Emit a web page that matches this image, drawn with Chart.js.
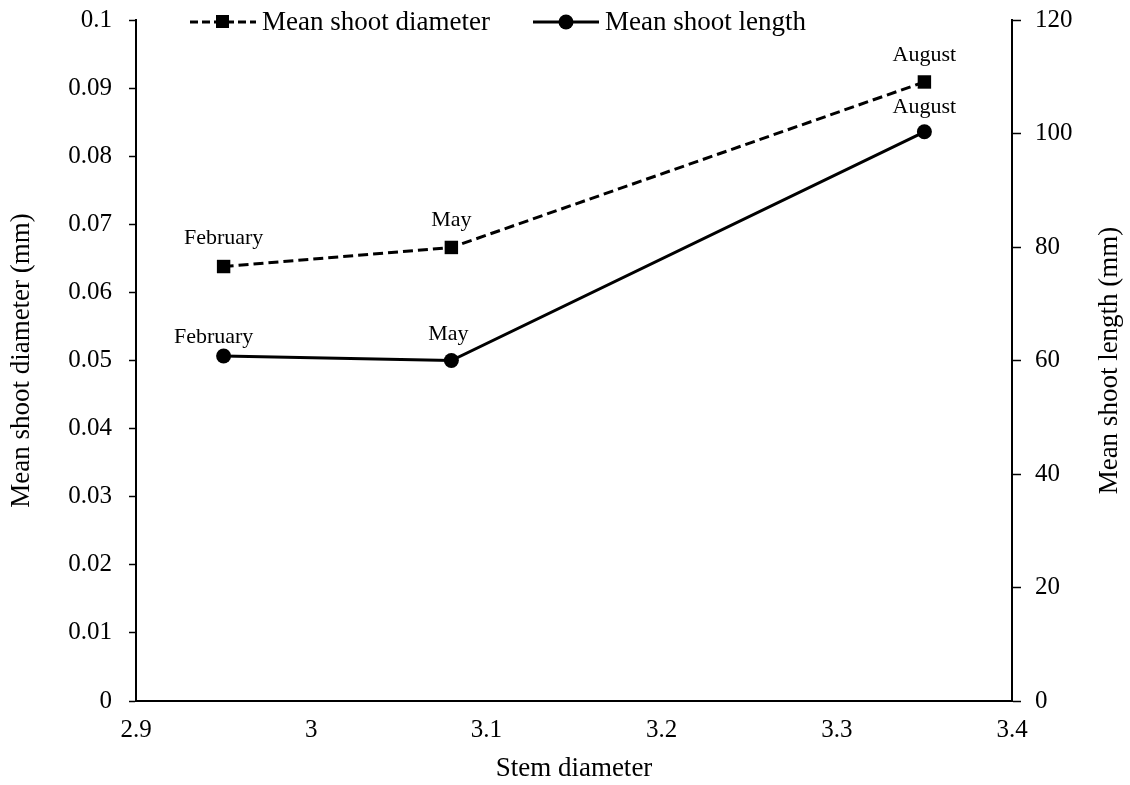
<!DOCTYPE html>
<html>
<head>
<meta charset="utf-8">
<script src="https://cdn.jsdelivr.net/npm/chart.js@4/dist/chart.umd.min.js"></script>
<style>
  html, body { margin: 0; padding: 0; background: #fff; }
  #wrap { width: 1130px; height: 785px; }
</style>
</head>
<body>
<div id="wrap"><canvas id="chart" width="1130" height="785"></canvas></div>
<script>
// Data
const months = ['February', 'May', 'August'];
const stemDiameter = [2.95, 3.08, 3.35];
const meanShootDiameter = [0.0638, 0.0666, 0.0909];
const meanShootLength = [60.8, 60.0, 100.3];

const fontFamily = '"Liberation Serif", "Times New Roman", serif';

function toPoints(xs, ys) {
    return xs.map((x, i) => ({ x: x, y: ys[i] }));
}

// Month labels above each point (small nudges like the original labels)
const labelNudge = [
    [[0, -28], [0, -27], [0, -27]],
    [[-10, -19], [-3, -26], [0, -25]]
];
const monthLabels = {
    id: 'monthLabels',
    afterDatasetsDraw(chart) {
        const ctx = chart.ctx;
        ctx.save();
        ctx.font = '22px ' + fontFamily;
        ctx.fillStyle = '#000';
        ctx.textAlign = 'center';
        ctx.textBaseline = 'middle';
        chart.data.datasets.forEach((ds, d) => {
            const meta = chart.getDatasetMeta(d);
            meta.data.forEach((pt, i) => {
                const n = labelNudge[d][i];
                ctx.fillText(months[i], pt.x + n[0], pt.y + n[1]);
            });
        });
        ctx.restore();
    }
};

// Legend with line + marker, and the right axis title (reads bottom to top)
const extras = {
    id: 'extras',
    afterDraw(chart) {
        const ctx = chart.ctx;
        const items = [
            { x: 190, label: 'Mean shoot diameter', dash: [8, 4], style: 'rect' },
            { x: 533, label: 'Mean shoot length', dash: [], style: 'circle' }
        ];
        const y = 22;
        ctx.save();
        items.forEach(it => {
            ctx.strokeStyle = '#000';
            ctx.lineWidth = 3;
            ctx.setLineDash(it.dash);
            ctx.beginPath();
            ctx.moveTo(it.x, y);
            ctx.lineTo(it.x + 66, y);
            ctx.stroke();
            ctx.setLineDash([]);
            ctx.fillStyle = '#000';
            if (it.style === 'rect') {
                ctx.fillRect(it.x + 26, y - 7, 13, 13);
            } else {
                ctx.beginPath();
                ctx.arc(it.x + 33, y, 7.5, 0, Math.PI * 2);
                ctx.fill();
            }
            ctx.font = '27px ' + fontFamily;
            ctx.textAlign = 'left';
            ctx.textBaseline = 'middle';
            ctx.fillText(it.label, it.x + 72, y + 1);
        });

        const area = chart.chartArea;
        ctx.translate(1110, (area.top + area.bottom) / 2);
        ctx.rotate(-Math.PI / 2);
        ctx.font = '27px ' + fontFamily;
        ctx.textAlign = 'center';
        ctx.textBaseline = 'middle';
        ctx.fillText('Mean shoot length (mm)', 0, 0);
        ctx.restore();
    }
};

const ctx = document.getElementById('chart').getContext('2d');
const chart = new Chart(ctx, {
    type: 'line',
    data: {
        datasets: [{
            label: 'Mean shoot diameter',
            data: toPoints(stemDiameter, meanShootDiameter),
            yAxisID: 'y',
            borderColor: '#000',
            backgroundColor: '#000',
            borderWidth: 3,
            borderDash: [10, 5],
            pointStyle: 'rect',
            pointRadius: 9.5,
            pointBorderWidth: 0,
            tension: 0
        }, {
            label: 'Mean shoot length',
            data: toPoints(stemDiameter, meanShootLength),
            yAxisID: 'y1',
            borderColor: '#000',
            backgroundColor: '#000',
            borderWidth: 3,
            pointStyle: 'circle',
            pointRadius: 7.5,
            pointBorderWidth: 0,
            tension: 0
        }]
    },
    options: {
        responsive: false,
        animation: false,
        layout: { padding: { top: 20, left: 0, right: 0, bottom: 0 } },
        plugins: {
            legend: { display: false },
            tooltip: { enabled: false }
        },
        scales: {
            x: {
                type: 'linear',
                min: 2.9,
                max: 3.4,
                ticks: {
                    stepSize: 0.1,
                    color: '#000',
                    font: { family: fontFamily, size: 25 },
                    padding: 14,
                    callback: v => Math.round(v * 10) / 10
                },
                grid: { display: true, drawOnChartArea: false, drawTicks: false },
                border: { color: '#000', width: 2 },
                title: {
                    display: true,
                    text: 'Stem diameter',
                    color: '#000',
                    font: { family: fontFamily, size: 27 },
                    padding: { top: 0, bottom: 0 }
                },
                afterFit(scale) {
                    scale.height = 84;
                    scale.paddingLeft = 0;
                    scale.paddingRight = 0;
                }
            },
            y: {
                position: 'left',
                min: 0,
                max: 0.1,
                ticks: {
                    stepSize: 0.01,
                    color: '#000',
                    font: { family: fontFamily, size: 25 },
                    padding: 17,
                    callback: v => Math.round(v * 100) / 100
                },
                grid: { drawOnChartArea: false, drawTicks: true, tickLength: 7, color: '#000', tickWidth: 1.5 },
                border: { color: '#000', width: 2 },
                title: {
                    display: true,
                    text: 'Mean shoot diameter (mm)',
                    color: '#000',
                    font: { family: fontFamily, size: 27 },
                    padding: { top: 6, bottom: 0 }
                },
                afterFit(scale) {
                    scale.width = 136;
                    scale.paddingTop = 0;
                    scale.paddingBottom = 0;
                }
            },
            y1: {
                position: 'right',
                min: 0,
                max: 120,
                ticks: {
                    stepSize: 20,
                    color: '#000',
                    font: { family: fontFamily, size: 25 },
                    padding: 14
                },
                grid: { drawOnChartArea: false, drawTicks: true, tickLength: 9, color: '#000', tickWidth: 1.5 },
                border: { color: '#000', width: 2 },
                title: { display: false },
                afterFit(scale) {
                    scale.width = 118;
                    scale.paddingTop = 0;
                    scale.paddingBottom = 0;
                }
            }
        }
    },
    plugins: [monthLabels, extras]
});
</script>
</body>
</html>
